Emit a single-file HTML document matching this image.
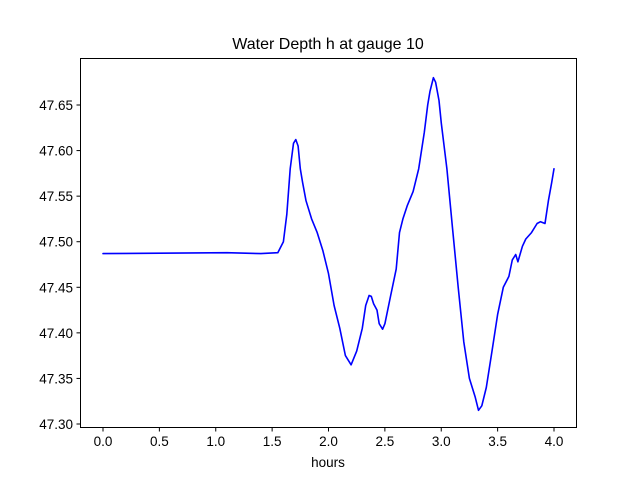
<!DOCTYPE html>
<html><head><meta charset="utf-8"><style>
body{margin:0;background:#fff;}
svg{display:block;font-family:"Liberation Sans","DejaVu Sans",sans-serif;}
</style></head><body>
<svg id="chart" width="640" height="480" viewBox="0 0 640 480" xmlns="http://www.w3.org/2000/svg">
<rect width="640" height="480" fill="#fff"/>
<text x="328" y="49" text-anchor="middle" font-size="16">Water Depth h at gauge 10</text>
<g id="xticks"></g><g id="yticks"></g>
<path id="line" fill="none" stroke="#0000ff" stroke-width="1.6" stroke-linejoin="round" stroke-linecap="round"/>
<rect x="80.5" y="58.5" width="496" height="369" fill="none" stroke="#000" stroke-width="1"/>
<text x="328" y="467" text-anchor="middle" font-size="13.5">hours</text>
</svg>
<script>
const hours=[0.0,1.1,1.4,1.55,1.6,1.63,1.66,1.69,1.71,1.73,1.75,1.77,1.8,1.85,1.9,1.95,2.0,2.05,2.1,2.15,2.2,2.25,2.3,2.33,2.36,2.38,2.4,2.43,2.45,2.48,2.5,2.55,2.6,2.63,2.66,2.7,2.75,2.8,2.85,2.88,2.9,2.93,2.95,2.98,3.0,3.05,3.1,3.15,3.2,3.25,3.3,3.33,3.36,3.4,3.45,3.5,3.55,3.6,3.63,3.66,3.68,3.72,3.75,3.8,3.85,3.88,3.92,3.95,3.98,4.0];
const depth=[47.487,47.488,47.487,47.488,47.50,47.53,47.58,47.608,47.612,47.605,47.58,47.565,47.545,47.525,47.51,47.49,47.465,47.43,47.405,47.375,47.365,47.38,47.405,47.43,47.441,47.44,47.432,47.425,47.41,47.404,47.41,47.44,47.47,47.51,47.525,47.54,47.555,47.58,47.62,47.65,47.665,47.68,47.675,47.655,47.63,47.58,47.515,47.45,47.39,47.35,47.33,47.315,47.32,47.34,47.38,47.42,47.45,47.462,47.48,47.486,47.478,47.495,47.503,47.51,47.52,47.522,47.52,47.545,47.565,47.58];
const xTicks=[0,0.5,1,1.5,2,2.5,3,3.5,4];
const yTicks=[47.30,47.35,47.40,47.45,47.50,47.55,47.60,47.65];
const NS="http://www.w3.org/2000/svg";
const X=v=>103+v*112.75;
const Y=v=>424-(v-47.30)*911.4;
function mk(tag,attrs,parent){const e=document.createElementNS(NS,tag);for(const k in attrs)e.setAttribute(k,attrs[k]);parent.appendChild(e);return e;}
const xg=document.getElementById('xticks'),yg=document.getElementById('yticks');
xTicks.forEach(t=>{
  const l=mk('line',{x1:X(t),x2:X(t),y1:427.5,y2:431.5,stroke:'#000'},xg);
  
  
  const tx=mk('text',{x:X(t),y:446,'text-anchor':'middle','font-size':'13.5'},xg);
  
  
  tx.textContent=t.toFixed(1);
});
yTicks.forEach(t=>{
  const l=mk('line',{x1:76.5,x2:80.5,y1:Y(t),y2:Y(t),stroke:'#000'},yg);
  
  
  const tx=mk('text',{x:73,y:Y(t)+5,'text-anchor':'end','font-size':'13.5'},yg);
  
  
  tx.textContent=t.toFixed(2);
});
document.getElementById('line').setAttribute('d',hours.map((h,i)=>(i?'L':'M')+X(h).toFixed(1)+','+Y(depth[i]).toFixed(1)).join(''));
</script>
</body></html>
